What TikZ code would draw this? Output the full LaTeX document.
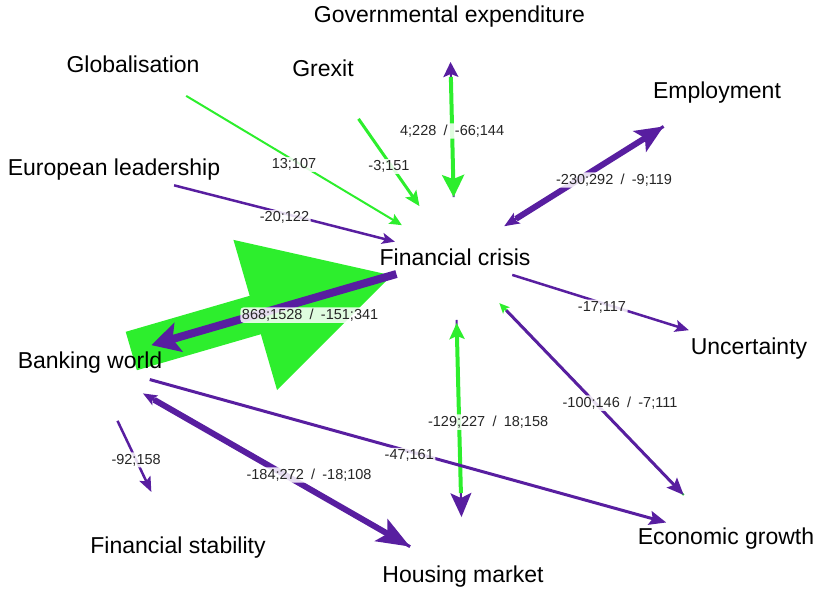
\documentclass[tikz,border=0pt]{standalone}
\usepackage{fontspec}
\setmainfont{Liberation Sans}
\usetikzlibrary{arrows.meta,backgrounds}
\definecolor{grn}{RGB}{45,238,45}
\definecolor{prp}{RGB}{88,30,160}

\begin{document}
\begin{tikzpicture}[x=1pt,y=-1pt,
    concept/.style={font=\fontsize{23}{26}\selectfont, inner sep=0pt},
    lbl/.style={font=\fontsize{14.5}{16}\selectfont, text=black!85, fill=white, fill opacity=.85, text opacity=1, rounded corners=3pt, inner sep=1.5pt},
    gl/.style={draw=grn, line width=#1},
    pl/.style={draw=prp, line width=#1},
    shorten >=62pt, shorten <=62pt]
  \useasboundingbox (0,0) rectangle (819,590);

  \node[concept] (gov)  at (449.5,17) {Governmental expenditure};
  \node[concept] (glob) at (133,64)   {Globalisation};
  \node[concept] (grex) at (323,68)   {Grexit};
  \node[concept] (emp)  at (717,93)   {Employment};
  \node[concept] (eu)   at (114,170)  {European leadership};
  \node[concept] (fc)   at (455,257)  {Financial crisis};
  \node[concept] (unc)  at (749,349)  {Uncertainty};
  \node[concept] (bw)   at (90,363)   {Banking world};
  \node[concept] (fs)   at (178,548)  {Financial stability};
  \node[concept] (eg)   at (726,539)  {Economic growth};
  \node[concept] (hm)   at (463,577)  {Housing market};

  \begin{scope}[on background layer]
  % into the crisis
  \draw[gl=2pt, -{Stealth[length=12pt,width=11pt,inset=2pt]}] (glob.center) -- node[lbl, yshift=-4pt] {13;107} (fc.center);
  \draw[gl=3pt, -{Stealth[length=15pt,width=13pt,inset=3pt]}] (grex.center) -- node[lbl, yshift=-4pt] {-3;151} (fc.center);
  \draw[pl=2.5pt, -{Stealth[length=13pt,width=11pt,inset=3pt]}] (eu.center) -- node[lbl, yshift=-4pt] {-20;122} (fc.center);

  % two-way links of the crisis
  \draw[pl=2pt, shorten >=45pt, shorten <=60pt, -{Stealth[length=15pt,width=15pt,inset=3pt]}] (fc.center) -- (gov.center);
  \draw[gl=4pt, shorten <=60pt, shorten >=60pt, -{Stealth[length=22pt,width=22pt,inset=4pt]}] (gov.center) -- node[lbl, pos=.475] {4;228\enskip/\enskip-66;144} (fc.center);

  \draw[pl=3pt, shorten <=63pt, shorten >=58pt, -{Stealth[length=15pt,width=12pt,inset=3pt]}] (emp.center) -- (fc.center);
  \draw[pl=6pt, shorten <=72pt, shorten >=63pt, -{Stealth[length=28pt,width=24pt,inset=6pt]}] (fc.center) -- node[lbl, pos=.607, yshift=-22.5pt] {-230;292\enskip/\enskip-9;119} (emp.center);

  \draw[pl=2.5pt, shorten <=60pt, shorten >=63pt, -{Stealth[length=14pt,width=12pt,inset=3pt]}] (fc.center) -- node[lbl, yshift=-4pt] {-17;117} (unc.center);

  \draw[gl=2pt, shorten <=61pt, shorten >=64pt, -{Stealth[length=10pt,width=9pt,inset=2pt]}] (eg.center) -- (fc.center);
  \draw[pl=3pt, shorten <=74pt, shorten >=61pt, -{Stealth[length=17pt,width=14pt,inset=3pt]}] (fc.center) -- node[lbl, pos=.518, xshift=24.6pt] {-100;146\enskip/\enskip-7;111} (eg.center);

  \draw[pl=2pt, shorten <=63pt, shorten >=60pt, -{Stealth[length=24pt,width=21pt,inset=5pt]}] (fc.center) -- (hm.center);
  \draw[gl=4pt, shorten <=84pt, shorten >=66pt, -{Stealth[length=16pt,width=15pt,inset=3pt]}] (hm.center) -- node[lbl, pos=.484, xshift=29pt] {-129;227\enskip/\enskip18;158} (fc.center);

  % banking world
  \draw[gl=40pt, shorten <=43pt, shorten >=63pt, -{Triangle[length=145pt,width=145pt]}] (bw.center) -- (fc.center);
  \draw[pl=8pt, shorten <=61pt, shorten >=64pt, -{Stealth[length=28pt,width=30pt,inset=6pt]}] (fc.center) -- node[lbl, pos=.397, yshift=-16pt] {868;1528\enskip/\enskip-151;341} (bw.center);
  \draw[pl=2.5pt, shorten <=64pt, shorten >=62pt, -{Stealth[length=15pt,width=12pt,inset=3pt]}] (bw.center) -- node[lbl, pos=.524] {-92;158} (fs.center);
  \draw[pl=3pt, shorten <=61pt, shorten >=61pt, -{Stealth[length=14pt,width=11pt,inset=3pt]}] (hm.center) -- (bw.center);
  \draw[pl=6pt, shorten <=74pt, shorten >=61pt, -{Stealth[length=33pt,width=25pt,inset=7pt]}] (bw.center) -- node[lbl, pos=.523, xshift=24pt] {-184;272\enskip/\enskip-18;108} (hm.center);
  \draw[pl=3pt, -{Stealth[length=17pt,width=14pt,inset=3pt]}] (bw.center) -- node[lbl, pos=.502, yshift=-4pt] {-47;161} (eg.center);
  \end{scope}
\end{tikzpicture}
\end{document}
